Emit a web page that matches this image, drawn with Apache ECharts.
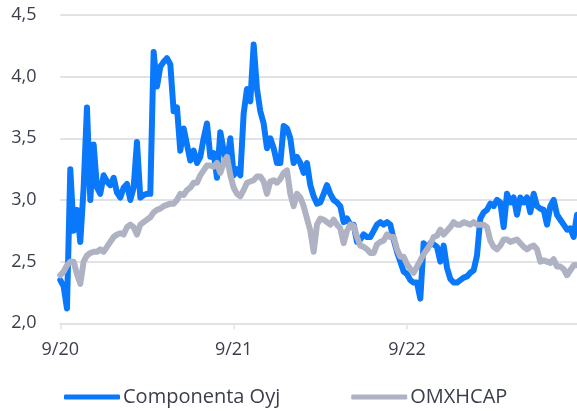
<!DOCTYPE html>
<html>
<head>
<meta charset="utf-8">
<script src="https://cdn.jsdelivr.net/npm/echarts@6/dist/echarts.min.js"></script>
<style>
  html, body { margin: 0; padding: 0; background: #fff; }
  #chart { width: 577px; height: 411px; }
</style>
</head>
<body>
<div id="chart"></div>
<script>
// weekly closes, first point = start of 9/20
const componenta = [
  2.35, 2.3, 2.12, 3.25, 2.75, 2.92, 2.66, 3.1, 3.75, 3.0,
  3.45, 3.1, 3.05, 3.2, 3.15, 3.12, 3.18, 3.06, 3.02, 3.1,
  3.13, 3.0, 3.1, 3.47, 3.02, 3.04, 3.05, 3.05, 4.2, 3.92,
  4.08, 4.12, 4.15, 4.1, 3.72, 3.75, 3.4, 3.58, 3.45, 3.32,
  3.4, 3.3, 3.35, 3.5, 3.62, 3.35, 3.38, 3.18, 3.55, 3.4,
  3.3, 3.5, 3.2, 3.25, 3.2, 3.7, 3.9, 3.8, 4.26, 3.9,
  3.72, 3.62, 3.42, 3.5, 3.42, 3.3, 3.3, 3.6, 3.58, 3.5,
  3.3, 3.35, 3.3, 3.22, 3.3, 3.12, 3.03, 2.97, 2.98, 3.05,
  3.12, 3.05, 3.0, 2.98, 2.95, 2.82, 2.85, 2.8, 2.8, 2.66,
  2.68, 2.72, 2.7, 2.7, 2.75, 2.8, 2.82, 2.8, 2.82, 2.8,
  2.68, 2.58, 2.5, 2.42, 2.4, 2.35, 2.33, 2.33, 2.2, 2.65,
  2.6, 2.65, 2.64, 2.62, 2.5, 2.63, 2.45, 2.36, 2.33, 2.33,
  2.35, 2.37, 2.38, 2.41, 2.43, 2.55, 2.85, 2.9, 2.92, 2.97,
  2.95, 3.0, 2.98, 2.78, 3.05, 2.98, 3.02, 2.88, 3.02, 2.98,
  3.02, 2.9, 3.05, 2.95, 2.93, 2.92, 2.8, 2.95, 3.0, 2.88,
  2.84, 2.8, 2.76, 2.77, 2.7, 2.88
];

const omxhcap = [
  2.39, 2.42, 2.47, 2.5, 2.5, 2.4, 2.32, 2.5, 2.55, 2.57,
  2.58, 2.58, 2.6, 2.58, 2.62, 2.66, 2.7, 2.72, 2.73, 2.72,
  2.78, 2.8, 2.78, 2.72, 2.8, 2.82, 2.84, 2.86, 2.9, 2.92,
  2.93, 2.95, 2.96, 2.97, 2.97, 3.0, 3.05, 3.04, 3.08, 3.1,
  3.14, 3.14, 3.2, 3.24, 3.28, 3.28, 3.27, 3.3, 3.22, 3.3,
  3.35, 3.2, 3.1, 3.05, 3.03, 3.08, 3.14, 3.15, 3.16, 3.19,
  3.19, 3.15, 3.05, 3.15, 3.16, 3.14, 3.17, 3.22, 3.24, 3.05,
  2.95, 3.05, 3.02, 2.95, 2.85, 2.75, 2.58, 2.8, 2.85, 2.84,
  2.82, 2.8, 2.84, 2.8, 2.77, 2.65, 2.75, 2.8, 2.79, 2.7,
  2.63, 2.62, 2.6, 2.57, 2.57, 2.64, 2.66, 2.67, 2.72, 2.7,
  2.7, 2.6, 2.54, 2.54, 2.48, 2.44, 2.41, 2.46, 2.51, 2.56,
  2.6, 2.64, 2.7, 2.71, 2.76, 2.72, 2.75, 2.78, 2.82, 2.8,
  2.8, 2.82, 2.81, 2.8, 2.82, 2.8, 2.8, 2.8, 2.78, 2.67,
  2.62, 2.6, 2.63, 2.68, 2.68, 2.66, 2.67, 2.68, 2.65, 2.62,
  2.6, 2.62, 2.63, 2.6, 2.5, 2.51, 2.5, 2.49, 2.52, 2.46,
  2.46, 2.44, 2.39, 2.43, 2.47, 2.47
];

// x tick labels and the week index they sit on
const tickLabels = ['9/20', '9/21', '9/22'];
const tickWeeks = [0, 52, 104];

const weeks = componenta.map((_, i) => i);

const chart = echarts.init(document.getElementById('chart'));

const textColor = '#3b3f4c';
const gridColor = '#e1e2e8';
const font = 'Open Sans';

function isTick(idx) {
  return tickWeeks.indexOf(idx) !== -1;
}

chart.setOption({
  animation: false,
  textStyle: { fontFamily: font },
  grid: { left: 60.3, right: 0, top: 15, bottom: 87.7 },
  legend: {
    left: 64,
    top: 387,
    padding: 0,
    itemWidth: 56,
    itemHeight: 5,
    itemGap: 71,
    icon: 'roundRect',
    textStyle: { color: textColor, fontSize: 20, fontFamily: font, padding: [0, 0, 0, -2] },
    data: ['Componenta Oyj', 'OMXHCAP']
  },
  xAxis: {
    type: 'category',
    data: weeks,
    boundaryGap: false,
    axisLine: { lineStyle: { color: gridColor, width: 2 } },
    axisTick: {
      interval: (idx) => isTick(idx),
      length: 6,
      lineStyle: { color: gridColor, width: 1.5 }
    },
    axisLabel: {
      interval: (idx) => isTick(idx),
      formatter: (v, idx) => tickLabels[tickWeeks.indexOf(idx)],
      color: textColor,
      fontSize: 18,
      margin: 18
    },
    splitLine: { show: false }
  },
  yAxis: {
    type: 'value',
    min: 2,
    max: 4.5,
    interval: 0.5,
    axisLine: { show: false },
    axisTick: { show: false },
    axisLabel: {
      color: textColor,
      fontSize: 18,
      align: 'left',
      margin: 49,
      formatter: (v) => v.toFixed(1).replace('.', ',')
    },
    splitLine: { lineStyle: { color: gridColor, width: 2 } }
  },
  series: [
    {
      name: 'Componenta Oyj',
      type: 'line',
      data: componenta,
      showSymbol: false,
      color: '#0a78fa',
      lineStyle: { width: 6, color: '#0a78fa', join: 'round', cap: 'round' }
    },
    {
      name: 'OMXHCAP',
      type: 'line',
      data: omxhcap,
      showSymbol: false,
      color: '#aeb2c2',
      lineStyle: { width: 6, color: '#aeb2c2', join: 'round', cap: 'round' }
    }
  ]
});
</script>
</body>
</html>
